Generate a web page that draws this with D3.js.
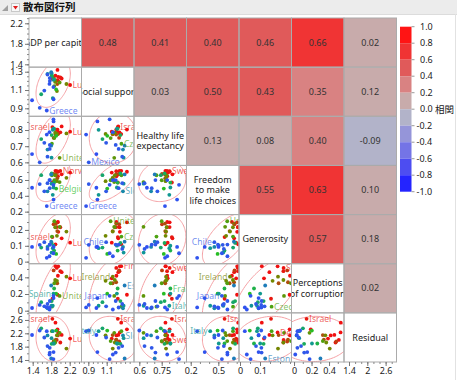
<!DOCTYPE html>
<html><head><meta charset="utf-8">
<script src="https://cdn.jsdelivr.net/npm/d3@7/dist/d3.min.js"></script>
<style>
body{margin:0;background:#fff;}
svg{display:block;font-family:"Noto Sans","Open Sans",sans-serif;}
</style>
</head><body>
<svg id="c" width="457" height="380"></svg>
<script>
// ---------------- DATA ----------------
const variables = ["GDP per capita","Social support","Healthy life expectancy","Freedom to make life choices","Generosity","Perceptions of corruption","Residual"];
const diagLines = [["GDP per capita"],["Social support"],["Healthy life","expectancy"],["Freedom","to make","life choices"],["Generosity"],["Perceptions","of corruption"],["Residual"]];

const countries = ["Finland","Denmark","Iceland","Switzerland","Netherlands","Luxembourg","Sweden","Norway","Israel","New Zealand","Austria","Australia","Ireland","Germany","Canada","United States","United Kingdom","Czechia","Belgium","France","Slovenia","Costa Rica","Spain","Italy","Lithuania","Slovakia","Estonia","Latvia","Chile","Mexico","Poland","Hungary","Japan","Korea","Greece","Portugal","Colombia"];
const ladder     = [7.821,7.636,7.557,7.512,7.415,7.404,7.384,7.365,7.364,7.200,7.163,7.162,7.041,7.034,7.025,6.977,6.943,6.920,6.805,6.687,6.630,6.582,6.476,6.467,6.446,6.391,6.341,6.180,6.172,6.128,6.123,6.086,6.039,5.935,5.948,5.929,5.781];
const gdp        = [1.892,1.953,1.936,2.026,1.945,2.209,1.920,1.997,1.826,1.852,1.931,1.900,2.129,1.924,1.886,1.982,1.867,1.815,1.907,1.863,1.810,1.584,1.850,1.834,1.808,1.720,1.800,1.720,1.651,1.552,1.770,1.768,1.848,1.851,1.704,1.763,1.386];
const social     = [1.258,1.243,1.320,1.226,1.206,1.155,1.204,1.239,1.221,1.235,1.165,1.203,1.166,1.088,1.188,1.182,1.143,1.260,1.106,1.219,1.249,1.054,1.211,1.012,1.284,1.277,1.295,1.269,1.094,0.905,1.198,1.230,1.132,0.999,0.876,1.167,0.988];
const health     = [0.775,0.777,0.803,0.822,0.787,0.790,0.803,0.786,0.818,0.752,0.774,0.772,0.779,0.776,0.783,0.628,0.750,0.715,0.764,0.808,0.769,0.744,0.808,0.801,0.629,0.679,0.703,0.635,0.721,0.600,0.708,0.683,0.866,0.853,0.772,0.787,0.651];
const freedom    = [0.716,0.705,0.704,0.672,0.648,0.694,0.712,0.714,0.568,0.676,0.623,0.671,0.627,0.585,0.659,0.574,0.597,0.660,0.492,0.567,0.683,0.661,0.505,0.412,0.554,0.457,0.670,0.560,0.457,0.548,0.599,0.496,0.539,0.352,0.270,0.599,0.502];
const generosity = [0.109,0.188,0.248,0.147,0.250,0.120,0.218,0.217,0.155,0.236,0.193,0.240,0.190,0.163,0.217,0.220,0.255,0.158,0.049,0.070,0.118,0.089,0.101,0.085,0.057,0.093,0.126,0.080,0.123,0.106,0.108,0.107,0.053,0.093,0.024,0.034,0.093];
const corruption = [0.534,0.532,0.191,0.461,0.419,0.388,0.512,0.474,0.143,0.483,0.329,0.341,0.408,0.358,0.368,0.177,0.329,0.048,0.204,0.266,0.115,0.102,0.205,0.059,0.059,0.029,0.302,0.080,0.052,0.069,0.116,0.038,0.178,0.151,0.039,0.014,0.032];
const residual   = [2.518,2.226,2.320,2.153,2.137,2.042,2.003,1.925,2.634,1.954,2.148,2.012,1.743,2.139,1.925,2.214,1.967,2.264,2.283,1.894,1.884,2.348,1.894,2.264,2.055,2.136,1.445,1.817,2.074,2.284,1.624,1.764,1.429,1.636,2.263,1.565,2.149];
const series = [gdp, social, health, freedom, generosity, corruption, residual];

// correlations, upper triangle, row by row
const corrRows = [
  [0.48, 0.41, 0.403, 0.46, 0.66, 0.02],
  [0.03, 0.50, 0.43, 0.35, 0.12],
  [0.13, 0.08, 0.397, -0.09],
  [0.55, 0.63, 0.10],
  [0.57, 0.18],
  [0.02]
];

// axis domains and tick labels
const xDomains = [[1.32,2.455],[0.826,1.397],[0.5645,0.916],[0.154,0.725],[-0.005,0.2575],[-0.029,0.571],[1.236,2.957]];
const yDomains = [[1.345,2.303],[0.813,1.350],[0.581,0.885],[0.163,0.784],[-0.013,0.297],[-0.026,0.563],[1.34,2.813]];
const xTicks = [[1.4,1.8,2.2],[0.9,1.1],[0.6,0.75],[0.2,0.5],[0,0.1],[0,0.2,0.4],[1.4,2,2.6]];
const yTicks = [[1.4,1.8,2.2],[0.9,1.1,1.3],[0.6,0.7,0.8],[0.2,0.4,0.6],[0,0.1,0.2],[0,0.2,0.4],[1.4,1.8,2.2,2.6]];
const xMinorStep = [0.1,0.05,0.05,0.1,0.05,0.1,0.2];
const yMinorStep = [0.1,0.05,0.05,0.1,0.05,0.1,0.2];

const legendTicks = ["1.0","0.8","0.6","0.4","0.2","0.0","-0.2","-0.4","-0.6","-0.8","-1.0"];
const legendColors = ["#ff1414","#f03434","#e05a5a","#d98282","#c8abab","#b2b3c9","#9595d9","#7474e6","#4d4df1","#2424ff"];

// point labels: [row, col, country, side]
const pointLabels = [
  [1,0,"Greece","start"],[1,0,"Luxembourg","start"],
  [2,0,"Israel","end"],[2,0,"Luxembourg","start"],[2,0,"United States","start"],
  [2,1,"Israel","start"],[2,1,"Czechia","start"],[2,1,"Mexico","start"],
  [3,0,"Norway","start"],[3,0,"Belgium","start"],[3,0,"Greece","start"],
  [3,1,"Slovakia","start"],[3,1,"Greece","start"],
  [3,2,"Sweden","start"],
  [4,0,"Israel","end"],[4,0,"Luxembourg","start"],
  [4,1,"United Kingdom","start"],[4,1,"Chile","end"],[4,1,"Czechia","start"],
  [4,3,"Chile","end"],[4,3,"United Kingdom","start"],
  [5,0,"Spain","end"],[5,0,"Luxembourg","start"],[5,0,"United States","start"],
  [5,1,"Ireland","end"],[5,1,"Estonia","start"],[5,1,"Finland","start"],[5,1,"Japan","end"],
  [5,2,"Sweden","start"],[5,2,"France","start"],[5,2,"Italy","start"],
  [5,3,"Ireland","end"],[5,3,"Japan","end"],
  [5,4,"Sweden","start"],[5,4,"Czechia","start"],
  [6,0,"Israel","end"],[6,0,"Luxembourg","start"],
  [6,1,"Italy","end"],[6,1,"Israel","start"],[6,1,"Slovakia","start"],
  [6,2,"Israel","start"],[6,2,"Sweden","start"],
  [6,3,"Italy","end"],[6,3,"Israel","start"],
  [6,4,"Denmark","start"],[6,4,"Estonia","start"],
  [6,5,"Israel","start"]
];

// ---------------- LAYOUT ----------------
const W = 457, H = 380;
const gx0 = 29, gy0 = 18, cw = 52.5, ch = (362 - 18) / 7;
const n = variables.length;
const svg = d3.select("#c");

// title bar
svg.append("rect").attr("x",0).attr("y",0).attr("width",W).attr("height",14).attr("fill","#ececec");
svg.append("line").attr("x1",0).attr("x2",W).attr("y1",14.5).attr("y2",14.5).attr("stroke","#dcdcdc");
svg.append("path").attr("d","M2,11 L8,5 L8,11 Z").attr("fill","#a0a0a0");
svg.append("rect").attr("x",11.5).attr("y",3.5).attr("width",8).attr("height",8).attr("fill","#f8f8f8").attr("stroke","#c8c8c8");
svg.append("path").attr("d","M13,6 L18,6 L15.5,9.5 Z").attr("fill","#e01b1b");
svg.append("text").attr("x",23).attr("y",11).text("散布図行列")
  .attr("font-weight","bold").attr("font-size",10.5).attr("fill","#111")
  .attr("font-family","'Noto Sans CJK JP',sans-serif");
svg.append("line").attr("x1",455.5).attr("x2",455.5).attr("y1",14).attr("y2",H).attr("stroke","#e2e2e2");

const xScales = xDomains.map((d,j)=> d3.scaleLinear().domain(d).range([gx0 + j*cw, gx0 + (j+1)*cw]));
const yScales = yDomains.map((d,i)=> d3.scaleLinear().domain(d).range([gy0 + (i+1)*ch, gy0 + i*ch]));

const colorScale = d3.scaleLinear()
  .domain([5.8, 6.2, 6.45, 6.8, 7.03, 7.2, 7.4])
  .range(["#2f4ff2","#2f5ae6","#0f9696","#25be25","#6f8a00","#c03c10","#f01010"])
  .clamp(true);
const heatColor = d3.scaleThreshold().domain([-0.8,-0.6,-0.4,-0.2,0,0.2,0.4,0.6,0.8]).range(legendColors.slice().reverse());

const rows = countries.map((c,k)=>({name:c, score:ladder[k], v:series.map(s=>s[k])}));

const defs = svg.append("defs");
const cells = svg.append("g");

// drop characters that fall wholly outside the cell (they would be clipped anyway)
function fitLabel(node, full, anchor, ax, lo, hi){
  let t = full;
  node.text(t);
  const el = node.node();
  if (anchor === "start"){
    while (t.length > 1 && ax + el.getSubStringLength(0, t.length-1) >= hi){ t = t.slice(0,-1); node.text(t); }
  } else {
    while (t.length > 1 && ax - el.getSubStringLength(1, t.length-1) <= lo){ t = t.slice(1); node.text(t); }
  }
}
// centred text, trimmed at both sides of the cell without moving the glyphs
function fitCentered(node, full, cx, lo, hi){
  node.text(full).attr("text-anchor","start");
  const el = node.node();
  let x = cx - el.getComputedTextLength()/2;
  let t = full;
  while (t.length > 1 && x + el.getSubStringLength(0,1) <= lo){
    x += el.getSubStringLength(0,1); t = t.slice(1); node.text(t);
  }
  while (t.length > 1 && x + el.getSubStringLength(0, t.length-1) >= hi){ t = t.slice(0,-1); node.text(t); }
  node.attr("x", x);
}

const FS = 9;
for (let i=0;i<n;i++){
  for (let j=0;j<n;j++){
    const x0 = gx0 + j*cw, y0 = gy0 + i*ch;
    const id = `clip${i}_${j}`;
    defs.append("clipPath").attr("id",id).append("rect").attr("x",x0).attr("y",y0).attr("width",cw).attr("height",ch);
    const g = cells.append("g").attr("clip-path",`url(#${id})`);
    if (i===j){
      g.append("rect").attr("x",x0).attr("y",y0).attr("width",cw).attr("height",ch).attr("fill","#fff");
      const lines = diagLines[i];
      const lh = 10.5;
      lines.forEach((t,k)=>{
        const tn = g.append("text").attr("y",y0+ch/2 + (k-(lines.length-1)/2)*lh + 3.2)
          .attr("font-size",FS).attr("fill","#222");
        fitCentered(tn, t, x0+cw/2, x0, x0+cw);
      });
    } else if (i<j){
      const r = corrRows[i][j-i-1];
      g.append("rect").attr("x",x0).attr("y",y0).attr("width",cw).attr("height",ch).attr("fill",heatColor(r));
      g.append("text").attr("x",x0+cw/2).attr("y",y0+ch/2+3.2).attr("text-anchor","middle")
        .attr("font-size",FS).attr("fill","#333").text(r.toFixed(2));
    } else {
      // scatter: x = variable j, y = variable i
      const xs = xScales[j], ys = yScales[i];
      g.append("rect").attr("x",x0).attr("y",y0).attr("width",cw).attr("height",ch).attr("fill","#fff");
      // 95% density ellipse from the data
      const X = series[j], Y = series[i];
      const mx = d3.mean(X), my = d3.mean(Y);
      const sxx = d3.variance(X), syy = d3.variance(Y);
      const sxy = d3.sum(X.map((x,k)=>(x-mx)*(Y[k]-my)))/(X.length-1);
      const tr = sxx+syy, det = sxx*syy - sxy*sxy;
      const l1 = tr/2 + Math.sqrt(tr*tr/4 - det), l2 = tr/2 - Math.sqrt(tr*tr/4 - det);
      let v1 = Math.abs(sxy) > 1e-12 ? [l1 - syy, sxy] : (sxx>=syy?[1,0]:[0,1]);
      const nv = Math.hypot(v1[0],v1[1]); v1 = [v1[0]/nv, v1[1]/nv];
      const v2 = [-v1[1], v1[0]];
      const c = Math.sqrt(5.991);
      const pts = d3.range(0, 2*Math.PI, Math.PI/60).map(t=>{
        const a = c*Math.sqrt(l1)*Math.cos(t), b = c*Math.sqrt(Math.max(l2,0))*Math.sin(t);
        return [xs(mx + a*v1[0] + b*v2[0]), ys(my + a*v1[1] + b*v2[1])];
      });
      g.append("path").attr("d", d3.line().curve(d3.curveLinearClosed)(pts))
        .attr("fill","none").attr("stroke","#f4a0a4").attr("stroke-width",1);
      g.selectAll("circle").data(rows).join("circle")
        .attr("cx",d=>xs(d.v[j])).attr("cy",d=>ys(d.v[i])).attr("r",1.9)
        .attr("fill",d=>colorScale(d.score));
      pointLabels.filter(p=>p[0]===i && p[1]===j).forEach(p=>{
        const d = rows.find(r=>r.name===p[2]);
        const px = xs(d.v[j]), py = ys(d.v[i]);
        const ax = p[3]==="end" ? px-2.5 : px+2.5;
        const t = g.append("text").attr("x", ax).attr("y", py+3.1)
          .attr("text-anchor", p[3]).attr("font-size",8.6)
          .attr("fill", colorScale(d.score)).attr("fill-opacity",0.7);
        fitLabel(t, d.name, p[3], ax, x0, x0+cw);
      });
    }
  }
}

// cell borders
for (let i=0;i<n;i++) for (let j=0;j<n;j++){
  svg.append("rect").attr("x",gx0+j*cw).attr("y",gy0+i*ch).attr("width",cw).attr("height",ch)
    .attr("fill","none").attr("stroke","#ababab").attr("stroke-width",1);
}

// axes
const fmt = d3.format("~g");
for (let i=0;i<n;i++){
  const ys = yScales[i], dom = yDomains[i];
  const minor = d3.range(Math.ceil(dom[0]/yMinorStep[i])*yMinorStep[i], dom[1], yMinorStep[i]);
  const gm = svg.append("g").attr("transform",`translate(${gx0},0)`)
    .call(d3.axisLeft(ys).tickValues(minor).tickSize(2).tickFormat(""));
  gm.select(".domain").remove(); gm.selectAll("line").attr("stroke","#888");
  const ga = svg.append("g").attr("transform",`translate(${gx0},0)`)
    .call(d3.axisLeft(ys).tickValues(yTicks[i]).tickSize(4).tickPadding(2).tickFormat(fmt));
  ga.select(".domain").remove();
  ga.selectAll("line").attr("stroke","#777");
  ga.selectAll("text").attr("font-size",FS).attr("fill","#222").attr("font-family","'Noto Sans',sans-serif");
}
for (let j=0;j<n;j++){
  const xs = xScales[j], dom = xDomains[j];
  const by = gy0 + n*ch;
  const minor = d3.range(Math.ceil(dom[0]/xMinorStep[j])*xMinorStep[j], dom[1], xMinorStep[j]);
  const gm = svg.append("g").attr("transform",`translate(0,${by})`)
    .call(d3.axisBottom(xs).tickValues(minor).tickSize(2).tickFormat(""));
  gm.select(".domain").remove(); gm.selectAll("line").attr("stroke","#888");
  const ga = svg.append("g").attr("transform",`translate(0,${by})`)
    .call(d3.axisBottom(xs).tickValues(xTicks[j]).tickSize(4).tickPadding(2).tickFormat(fmt));
  ga.select(".domain").remove();
  ga.selectAll("line").attr("stroke","#777");
  ga.selectAll("text").attr("font-size",FS).attr("fill","#222").attr("font-family","'Noto Sans',sans-serif");
}

// legend
const lx = 400, ly0 = 26.7, lh = 16.5, lw = 11.5;
const lg = svg.append("g");
legendColors.forEach((c,k)=>{
  lg.append("rect").attr("x",lx).attr("y",ly0+k*lh).attr("width",lw).attr("height",lh).attr("fill",c);
});
legendTicks.forEach((t,k)=>{
  const y = ly0 + k*lh;
  lg.append("line").attr("x1",lx+lw).attr("x2",lx+lw+3).attr("y1",y).attr("y2",y).attr("stroke","#999");
  lg.append("text").attr("x", t.startsWith("-") ? 416.5 : 420).attr("y", y+3.2)
    .attr("font-size",FS).attr("fill","#222").text(t);
});
lg.append("text").attr("x",435).attr("y",ly0+5*lh+3.4).attr("font-size",9.5).attr("fill","#222")
  .attr("font-family","'Noto Sans CJK JP',sans-serif").text("相関");
</script>
</body></html>
